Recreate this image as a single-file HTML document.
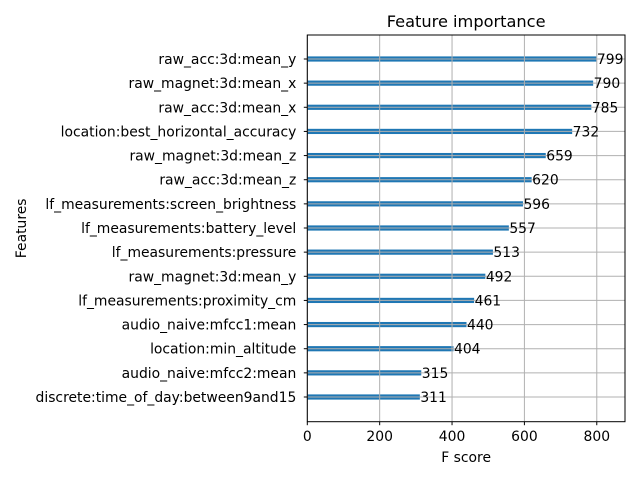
<!DOCTYPE html>
<html><head><meta charset="utf-8"><style>
body{margin:0;background:#fff;}
svg text{font-family:"DejaVu Sans","Liberation Sans",sans-serif;fill:#000;}
</style></head><body>
<svg id="chart" width="640" height="480" xmlns="http://www.w3.org/2000/svg"></svg>
<script>
const features=["raw_acc:3d:mean_y","raw_magnet:3d:mean_x","raw_acc:3d:mean_x","location:best_horizontal_accuracy","raw_magnet:3d:mean_z","raw_acc:3d:mean_z","lf_measurements:screen_brightness","lf_measurements:battery_level","lf_measurements:pressure","raw_magnet:3d:mean_y","lf_measurements:proximity_cm","audio_naive:mfcc1:mean","location:min_altitude","audio_naive:mfcc2:mean","discrete:time_of_day:between9and15"];
const scores=[799,790,785,732,659,620,596,557,513,492,461,440,404,315,311];
const xTicks=[0,200,400,600,800];
const NS="http://www.w3.org/2000/svg";
const svg=document.getElementById('chart');
const L=307.3,R=625,T=35,B=421.7,xMax=878;
const FS='13.9px';
const x=v=>L+(R-L)*v/xMax;
const y=i=>59+i*(397-59)/(features.length-1);
function mk(tag,attrs,txt){const e=document.createElementNS(NS,tag);for(const k in attrs)e.setAttribute(k,attrs[k]);if(txt!==undefined)e.textContent=txt;svg.appendChild(e);return e;}
features.forEach((f,i)=>{
  const b=mk('rect',{x:L,y:y(i)-2.6,width:x(scores[i])-L,height:5.2,fill:'#1f77b4'});
  
  
});
xTicks.forEach(t=>{const g=mk('line',{x1:x(t),x2:x(t),y1:T,y2:B,stroke:'#b0b0b0','stroke-width':1});
  
  });
features.forEach((f,i)=>{const g=mk('line',{x1:L,x2:R,y1:y(i),y2:y(i),stroke:'#b0b0b0','stroke-width':1});
  
  });
const fr=mk('rect',{x:L,y:T,width:R-L,height:B-T,fill:'none',stroke:'#000','stroke-width':1});


features.forEach((f,i)=>{
  mk('line',{x1:L-3.5,x2:L,y1:y(i),y2:y(i),stroke:'#000'});
  const t=mk('text',{x:L-11,y:y(i)+5,'text-anchor':'end','font-size':FS},f);
  
  
  const v=mk('text',{x:x(scores[i])+0.5,y:y(i)+5,'font-size':FS},String(scores[i]));
  
  
});
xTicks.forEach(t=>{
  mk('line',{x1:x(t),x2:x(t),y1:B,y2:B+3.5,stroke:'#000'});
  const e=mk('text',{x:x(t),y:B+19.5,'text-anchor':'middle','font-size':FS},String(t));
  
  
});
const ti=mk('text',{x:(L+R)/2,y:27,'text-anchor':'middle','font-size':'16.2px'},'Feature importance');


const xl=mk('text',{x:(L+R)/2,y:462,'text-anchor':'middle','font-size':FS},'F score');


const yl=mk('text',{x:26,y:(T+B)/2,'text-anchor':'middle','font-size':FS,transform:'rotate(-90 26 '+((T+B)/2)+')'},'Features');


</script>
</body></html>
